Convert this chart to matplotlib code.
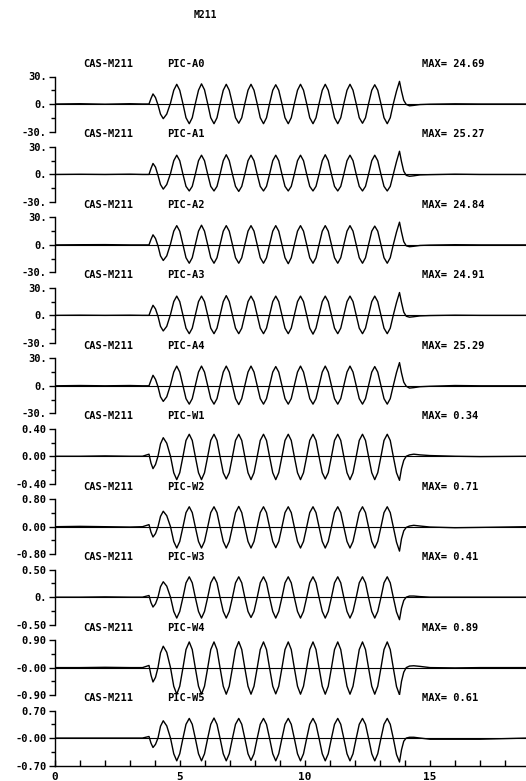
import matplotlib
matplotlib.use("Agg")
import matplotlib.pyplot as plt
from matplotlib.ticker import FixedLocator, NullFormatter

# time samples (s), read along the crests / zero crossings of the traces
t = [0.0, 1.0, 2.0, 3.0, 3.5, 3.76, 3.84, 3.92, 4.02, 4.12, 4.22, 4.33, 4.47, 4.62, 4.75,
     4.87, 4.99, 5.12, 5.24, 5.37, 5.49, 5.61, 5.74,
     5.86, 5.98, 6.11, 6.23, 6.36, 6.48, 6.60, 6.73,
     6.85, 6.97, 7.10, 7.22, 7.35, 7.47, 7.59, 7.72,
     7.84, 7.96, 8.09, 8.21, 8.34, 8.46, 8.58, 8.71,
     8.83, 8.95, 9.08, 9.20, 9.33, 9.45, 9.57, 9.70,
     9.82, 9.94, 10.07, 10.19, 10.32, 10.44, 10.56, 10.69,
     10.81, 10.93, 11.06, 11.18, 11.31, 11.43, 11.55, 11.68,
     11.80, 11.92, 12.05, 12.17, 12.30, 12.42, 12.54, 12.67,
     12.79, 12.91, 13.04, 13.16, 13.29, 13.41, 13.53, 13.66,
     13.78, 13.86, 13.95, 14.05, 14.18, 14.35, 14.6, 15.0, 16.0, 17.0, 18.9]

a0 = [0.0, 0.3, -0.2, 0.3, 0.0, 0.0, 6.0, 11.0, 7.0, -1.0, -11.0, -16.0, -11.0, 1.0, 15.0,
      21.5, 15.0, 0.0, -15.0, -21.5, -15.0, 0.0, 15.0,
      22.0, 15.5, 0.0, -15.0, -21.5, -15.0, 0.0, 15.0,
      21.5, 15.0, 0.0, -15.0, -21.0, -15.0, 0.0, 15.0,
      21.5, 15.0, 0.0, -15.0, -21.5, -15.0, 0.0, 15.0,
      21.0, 15.0, 0.0, -15.0, -21.5, -15.0, 0.0, 15.0,
      21.5, 15.0, 0.0, -15.0, -21.5, -15.0, 0.0, 15.0,
      21.5, 15.0, 0.0, -15.0, -21.5, -15.0, 0.0, 15.0,
      21.5, 15.0, 0.0, -15.0, -21.0, -15.0, 0.0, 15.0,
      21.0, 15.0, 0.0, -15.0, -21.5, -15.0, 0.0, 14.0,
      24.7, 14.0, 4.0, -0.5, -2.0, -1.5, -0.6, -0.2, 0.2, 0.0, 0.0]
a1 = [0.0, 0.2, 0.0, 0.3, 0.0, 0.0, 6.5, 12.0, 8.0, -1.0, -11.0, -16.0, -11.0, 1.0, 15.0,
      21.0, 15.0, 0.0, -13.0, -18.0, -13.0, 0.0, 15.0,
      21.0, 15.0, 0.0, -13.0, -18.0, -13.0, 0.0, 15.0,
      21.5, 15.0, 0.0, -13.0, -18.5, -13.0, 0.0, 15.0,
      21.0, 15.0, 0.0, -13.0, -18.0, -13.0, 0.0, 15.0,
      21.0, 15.0, 0.0, -13.0, -18.0, -13.0, 0.0, 15.0,
      21.0, 15.0, 0.0, -13.0, -18.0, -13.0, 0.0, 15.0,
      21.5, 15.0, 0.0, -13.0, -18.0, -13.0, 0.0, 15.0,
      21.0, 15.0, 0.0, -13.0, -18.0, -13.0, 0.0, 15.0,
      21.0, 15.0, 0.0, -13.0, -18.0, -13.0, 0.0, 14.0,
      25.3, 14.0, 3.5, -1.0, -2.0, -1.5, -0.5, -0.2, 0.3, 0.0, 0.0]
a2 = [0.0, 0.2, 0.3, 0.0, 0.0, 0.0, 6.0, 11.0, 7.0, -1.0, -12.0, -17.0, -12.0, 1.0, 15.0,
      21.0, 15.0, 0.0, -14.0, -20.0, -14.0, 0.0, 15.0,
      21.5, 15.0, 0.0, -14.0, -20.0, -14.0, 0.0, 15.0,
      21.0, 15.0, 0.0, -14.0, -20.0, -14.0, 0.0, 15.0,
      21.0, 15.0, 0.0, -14.0, -20.0, -14.0, 0.0, 15.0,
      21.0, 15.0, 0.0, -14.0, -20.5, -14.0, 0.0, 15.0,
      21.0, 15.0, 0.0, -14.0, -20.0, -14.0, 0.0, 15.0,
      21.0, 15.0, 0.0, -14.0, -20.0, -14.0, 0.0, 15.0,
      21.0, 15.0, 0.0, -14.0, -20.0, -14.0, 0.0, 15.0,
      20.5, 15.0, 0.0, -14.0, -20.0, -14.0, 0.0, 14.0,
      24.8, 14.0, 3.5, -1.0, -2.0, -1.5, -0.6, -0.2, 0.2, 0.0, 0.0]
a3 = [0.0, 0.2, 0.0, 0.2, 0.0, 0.0, 6.0, 11.0, 7.0, -1.0, -12.0, -17.0, -12.0, 1.0, 15.0,
      21.0, 15.0, 0.0, -14.0, -20.0, -14.0, 0.0, 15.0,
      21.0, 15.0, 0.0, -14.0, -20.0, -14.0, 0.0, 15.0,
      21.5, 15.0, 0.0, -14.0, -20.0, -14.0, 0.0, 15.0,
      21.0, 15.0, 0.0, -14.0, -20.0, -14.0, 0.0, 15.0,
      21.0, 15.0, 0.0, -14.0, -20.0, -14.0, 0.0, 15.0,
      21.0, 15.0, 0.0, -14.0, -20.5, -14.0, 0.0, 15.0,
      21.0, 15.0, 0.0, -14.0, -20.0, -14.0, 0.0, 15.0,
      21.0, 15.0, 0.0, -14.0, -20.0, -14.0, 0.0, 15.0,
      21.0, 15.0, 0.0, -14.0, -20.0, -14.0, 0.0, 14.0,
      24.9, 14.0, 3.5, -1.0, -2.0, -1.5, -0.6, -0.2, 0.2, 0.0, 0.0]
a4 = [0.0, 0.3, 0.0, 0.3, 0.0, 0.0, 6.0, 11.5, 7.0, -1.0, -12.0, -17.0, -12.0, 1.0, 15.0,
      21.5, 15.0, 0.0, -14.0, -20.0, -14.0, 0.0, 15.0,
      21.5, 15.0, 0.0, -14.0, -20.0, -14.0, 0.0, 15.0,
      21.5, 15.0, 0.0, -14.0, -20.5, -14.0, 0.0, 15.0,
      21.5, 15.0, 0.0, -14.0, -20.0, -14.0, 0.0, 15.0,
      21.0, 15.0, 0.0, -14.0, -20.0, -14.0, 0.0, 15.0,
      21.5, 15.0, 0.0, -14.0, -20.0, -14.0, 0.0, 15.0,
      21.5, 15.0, 0.0, -14.0, -20.0, -14.0, 0.0, 15.0,
      21.5, 15.0, 0.0, -14.0, -20.0, -14.0, 0.0, 15.0,
      21.0, 15.0, 0.0, -14.0, -20.0, -14.0, 0.0, 14.5,
      25.3, 14.0, 4.0, -0.5, -2.5, -2.0, -1.0, -0.5, 0.3, 0.0, 0.0]
w1 = [0.0, 0.0, 0.005, 0.0, 0.0, 0.03, -0.10, -0.18, -0.12, 0.0, 0.18, 0.27, 0.19, 0.0, -0.24,
      -0.34, -0.24, 0.0, 0.23, 0.32, 0.23, 0.0, -0.24,
      -0.34, -0.24, 0.0, 0.23, 0.32, 0.23, 0.0, -0.24,
      -0.33, -0.24, 0.0, 0.23, 0.32, 0.23, 0.0, -0.24,
      -0.34, -0.24, 0.0, 0.23, 0.32, 0.23, 0.0, -0.24,
      -0.34, -0.24, 0.0, 0.23, 0.32, 0.23, 0.0, -0.24,
      -0.34, -0.24, 0.0, 0.23, 0.32, 0.23, 0.0, -0.24,
      -0.33, -0.24, 0.0, 0.23, 0.32, 0.23, 0.0, -0.24,
      -0.34, -0.24, 0.0, 0.23, 0.32, 0.23, 0.0, -0.24,
      -0.34, -0.24, 0.0, 0.23, 0.32, 0.23, 0.0, -0.24,
      -0.35, -0.18, -0.06, 0.0, 0.02, 0.03, 0.02, 0.01, 0.0, -0.005, 0.0]
w2 = [0.0, 0.01, 0.0, -0.01, 0.0, 0.06, -0.16, -0.30, -0.20, 0.0, 0.30, 0.45, 0.32, 0.0, -0.43,
      -0.62, -0.43, 0.0, 0.41, 0.58, 0.41, 0.0, -0.43,
      -0.62, -0.43, 0.0, 0.41, 0.58, 0.41, 0.0, -0.43,
      -0.62, -0.43, 0.0, 0.41, 0.59, 0.41, 0.0, -0.43,
      -0.62, -0.43, 0.0, 0.41, 0.58, 0.41, 0.0, -0.43,
      -0.61, -0.43, 0.0, 0.41, 0.58, 0.41, 0.0, -0.43,
      -0.62, -0.43, 0.0, 0.41, 0.58, 0.41, 0.0, -0.43,
      -0.62, -0.43, 0.0, 0.41, 0.58, 0.41, 0.0, -0.43,
      -0.62, -0.43, 0.0, 0.41, 0.58, 0.41, 0.0, -0.43,
      -0.62, -0.43, 0.0, 0.41, 0.58, 0.41, 0.0, -0.45,
      -0.71, -0.35, -0.12, -0.02, 0.02, 0.04, 0.02, -0.01, -0.03, -0.02, 0.0]
w3 = [0.0, 0.0, 0.005, 0.0, 0.0, 0.03, -0.10, -0.18, -0.12, 0.0, 0.19, 0.28, 0.20, 0.0, -0.26,
      -0.38, -0.26, 0.0, 0.26, 0.37, 0.26, 0.0, -0.26,
      -0.38, -0.26, 0.0, 0.26, 0.37, 0.26, 0.0, -0.26,
      -0.38, -0.26, 0.0, 0.26, 0.37, 0.26, 0.0, -0.26,
      -0.37, -0.26, 0.0, 0.26, 0.37, 0.26, 0.0, -0.26,
      -0.38, -0.26, 0.0, 0.26, 0.37, 0.26, 0.0, -0.26,
      -0.38, -0.26, 0.0, 0.26, 0.37, 0.26, 0.0, -0.26,
      -0.38, -0.26, 0.0, 0.26, 0.37, 0.26, 0.0, -0.26,
      -0.38, -0.26, 0.0, 0.26, 0.37, 0.26, 0.0, -0.26,
      -0.38, -0.26, 0.0, 0.26, 0.37, 0.26, 0.0, -0.27,
      -0.41, -0.20, -0.06, 0.0, 0.02, 0.02, 0.01, 0.0, 0.0, 0.0, 0.0]
w4 = [0.0, 0.0, 0.01, 0.0, 0.0, 0.07, -0.25, -0.47, -0.32, 0.0, 0.48, 0.70, 0.50, 0.0, -0.61,
      -0.87, -0.61, 0.0, 0.59, 0.84, 0.59, 0.0, -0.61,
      -0.87, -0.61, 0.0, 0.59, 0.84, 0.59, 0.0, -0.61,
      -0.87, -0.61, 0.0, 0.59, 0.85, 0.59, 0.0, -0.61,
      -0.87, -0.61, 0.0, 0.59, 0.84, 0.59, 0.0, -0.61,
      -0.86, -0.61, 0.0, 0.59, 0.84, 0.59, 0.0, -0.61,
      -0.87, -0.61, 0.0, 0.59, 0.84, 0.59, 0.0, -0.61,
      -0.87, -0.61, 0.0, 0.59, 0.84, 0.59, 0.0, -0.61,
      -0.87, -0.61, 0.0, 0.59, 0.84, 0.59, 0.0, -0.61,
      -0.87, -0.61, 0.0, 0.59, 0.84, 0.59, 0.0, -0.62,
      -0.89, -0.45, -0.15, 0.0, 0.05, 0.06, 0.04, 0.0, -0.01, 0.0, 0.0]
w5 = [0.0, 0.0, 0.0, 0.0, 0.0, 0.04, -0.13, -0.24, -0.16, 0.0, 0.30, 0.44, 0.31, 0.0, -0.40,
      -0.58, -0.40, 0.0, 0.35, 0.50, 0.35, 0.0, -0.40,
      -0.58, -0.40, 0.0, 0.35, 0.51, 0.35, 0.0, -0.40,
      -0.58, -0.40, 0.0, 0.35, 0.50, 0.35, 0.0, -0.40,
      -0.57, -0.40, 0.0, 0.35, 0.50, 0.35, 0.0, -0.40,
      -0.58, -0.40, 0.0, 0.35, 0.50, 0.35, 0.0, -0.40,
      -0.58, -0.40, 0.0, 0.35, 0.50, 0.35, 0.0, -0.40,
      -0.58, -0.40, 0.0, 0.35, 0.50, 0.35, 0.0, -0.40,
      -0.58, -0.40, 0.0, 0.35, 0.50, 0.35, 0.0, -0.40,
      -0.58, -0.40, 0.0, 0.35, 0.50, 0.35, 0.0, -0.42,
      -0.61, -0.30, -0.08, 0.0, 0.02, 0.02, 0.0, -0.03, -0.03, -0.03, 0.0]

series = [a0, a1, a2, a3, a4, w1, w2, w3, w4, w5]
names = ["PIC-A0", "PIC-A1", "PIC-A2", "PIC-A3", "PIC-A4",
         "PIC-W1", "PIC-W2", "PIC-W3", "PIC-W4", "PIC-W5"]
max_labels = ["24.69", "25.27", "24.84", "24.91", "25.29",
              "0.34", "0.71", "0.41", "0.89", "0.61"]
ylims = [30, 30, 30, 30, 30, 0.40, 0.80, 0.50, 0.90, 0.70]
ytick_labels = [["-30.", "0.", "30."]] * 5 + [
    ["-0.40", "0.00", "0.40"],
    ["-0.80", "0.00", "0.80"],
    ["-0.50", "0.", "0.50"],
    ["-0.90", "-0.00", "0.90"],
    ["-0.70", "-0.00", "0.70"],
]
case_name = "M211"

W, H = 526, 781
font = dict(family="DejaVu Sans Mono", fontweight="bold", fontsize=7.5)

fig = plt.figure(figsize=(W / 100, H / 100), dpi=100)
fig.text(205 / W, 1 - 15 / H, case_name, ha="center", va="center",
         family="DejaVu Sans Mono", fontweight="bold", fontsize=7)

left = 55 / W
pitch = 70.45
half = 27.5
for i, (vals, name) in enumerate(zip(series, names)):
    zero_px = 104 + pitch * i
    ax = fig.add_axes([left, 1 - (zero_px + half) / H, 1 - left, 2 * half / H])
    lim = ylims[i]
    ax.plot(t, vals, color="black", lw=1.0)
    ax.axhline(0, color="black", lw=0.8)
    ax.set_xlim(0, (W - 55) / 25)
    ax.set_ylim(-lim, lim)
    for s in ["top", "right", "bottom"]:
        ax.spines[s].set_visible(False)
    ax.spines["left"].set_linewidth(1.0)
    ax.yaxis.set_major_locator(FixedLocator([-lim, 0, lim]))
    ax.set_yticklabels(ytick_labels[i])
    ax.yaxis.set_minor_locator(FixedLocator([-lim / 2, lim / 2]))
    ax.tick_params(axis="y", which="major", direction="out", length=4, width=1.0, pad=2)
    ax.tick_params(axis="y", which="minor", direction="out", length=3, width=1.0)
    for lab in ax.get_yticklabels():
        lab.set_fontfamily("DejaVu Sans Mono")
        lab.set_fontweight("bold")
        lab.set_fontsize(7.5)
    if i == len(series) - 1:
        ax.spines["bottom"].set_visible(True)
        ax.spines["bottom"].set_linewidth(1.0)
        ax.xaxis.set_major_locator(FixedLocator([0, 5, 10, 15]))
        ax.xaxis.set_minor_locator(FixedLocator([1, 2, 3, 4, 6, 7, 8, 9, 11, 12, 13, 14, 16, 17, 18]))
        ax.xaxis.set_minor_formatter(NullFormatter())
        ax.tick_params(axis="x", which="both", direction="in", length=4, width=1.0, pad=5)
        for lab in ax.get_xticklabels():
            lab.set_fontfamily("DejaVu Sans Mono")
            lab.set_fontweight("bold")
            lab.set_fontsize(8)
    else:
        ax.set_xticks([])
    head_y = 1 - (zero_px - 40) / H
    fig.text(83 / W, head_y, "CAS-" + case_name, ha="left", va="center", **font)
    fig.text(167 / W, head_y, name, ha="left", va="center", **font)
    fig.text(422 / W, head_y, "MAX= " + max_labels[i], ha="left", va="center", **font)

fig.savefig("out.png", dpi=100)
